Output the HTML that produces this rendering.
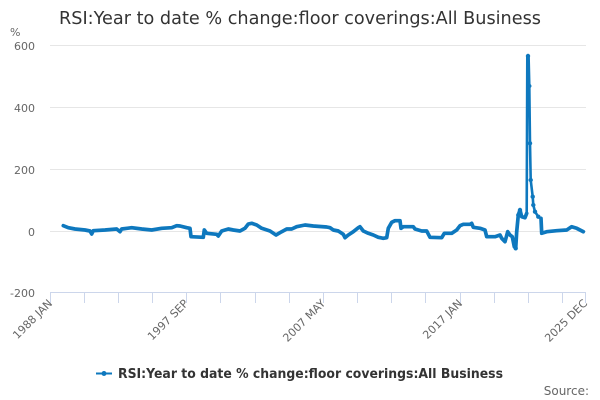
<!DOCTYPE html>
<html>
<head>
<meta charset="utf-8">
<style>
  html, body { margin: 0; padding: 0; background: #ffffff; }
  svg { display: block; }
  text { font-family: "DejaVu Sans", "Liberation Sans", sans-serif; }
</style>
</head>
<body>
<svg width="600" height="400" viewBox="0 0 600 400" xmlns="http://www.w3.org/2000/svg">
  <rect x="0" y="0" width="600" height="400" fill="#ffffff"/>

  <!-- Title -->
  <text x="300" y="24" text-anchor="middle" font-size="18" fill="#333333" textLength="482" lengthAdjust="spacingAndGlyphs">RSI:Year to date % change:floor coverings:All Business</text>

  <!-- Y axis unit -->
  <text x="10" y="36" font-size="11" fill="#666666">%</text>

  <!-- Gridlines -->
  <g stroke="#e6e6e6" stroke-width="1">
    <line x1="50" y1="45.5" x2="586" y2="45.5"/>
    <line x1="50" y1="107.5" x2="586" y2="107.5"/>
    <line x1="50" y1="169.5" x2="586" y2="169.5"/>
    <line x1="50" y1="231.5" x2="586" y2="231.5"/>
  </g>

  <!-- Y labels -->
  <g font-size="11" fill="#666666" text-anchor="end">
    <text x="35" y="50">600</text>
    <text x="35" y="112">400</text>
    <text x="35" y="174">200</text>
    <text x="35" y="236">0</text>
    <text x="35" y="297">-200</text>
  </g>

  <!-- X axis line and ticks -->
  <g stroke="#ccd6eb" stroke-width="1">
    <line x1="50" y1="292.5" x2="586" y2="292.5"/>
    <line x1="50.5" y1="292" x2="50.5" y2="303"/>
    <line x1="84.5" y1="292" x2="84.5" y2="303"/>
    <line x1="118.5" y1="292" x2="118.5" y2="303"/>
    <line x1="152.5" y1="292" x2="152.5" y2="303"/>
    <line x1="186.5" y1="292" x2="186.5" y2="303"/>
    <line x1="220.5" y1="292" x2="220.5" y2="303"/>
    <line x1="255.5" y1="292" x2="255.5" y2="303"/>
    <line x1="289.5" y1="292" x2="289.5" y2="303"/>
    <line x1="323.5" y1="292" x2="323.5" y2="303"/>
    <line x1="357.5" y1="292" x2="357.5" y2="303"/>
    <line x1="391.5" y1="292" x2="391.5" y2="303"/>
    <line x1="425.5" y1="292" x2="425.5" y2="303"/>
    <line x1="460.5" y1="292" x2="460.5" y2="303"/>
    <line x1="494.5" y1="292" x2="494.5" y2="303"/>
    <line x1="528.5" y1="292" x2="528.5" y2="303"/>
    <line x1="562.5" y1="292" x2="562.5" y2="303"/>
    <line x1="585.5" y1="292" x2="585.5" y2="303"/>
  </g>

  <!-- X labels (rotated) -->
  <g font-size="11" fill="#666666" text-anchor="end">
    <text transform="translate(53,304) rotate(-45)">1988 JAN</text>
    <text transform="translate(189,304) rotate(-45)">1997 SEP</text>
    <text transform="translate(326,304) rotate(-45)">2007 MAY</text>
    <text transform="translate(463,304) rotate(-45)">2017 JAN</text>
    <text transform="translate(588,304) rotate(-45)">2025 DEC</text>
  </g>

  <!-- Series -->
  <polyline fill="none" stroke="#0e78be" stroke-width="3.7" stroke-linejoin="round" stroke-linecap="round"
    points="63.3,225.7 68.3,227.7 75,229 85,230 90,231 91.7,234 93.3,230.7 105,230 116.7,229 120,231.7 121.7,229 131.7,227.7 141.7,229 151.7,230 161.7,228.3 171.7,227.7 176.7,225.7 180,226 186.7,227.7 190,228.3 191,236.7 203.3,237.3 204.3,230 206.7,233.3 216.7,234.3 218.3,236 221.7,231 228.3,229 233.3,230 240,231 245,228.3 248.3,224 251.7,223.3 256.7,225 261.7,228.3 270,231 276,235 281.7,231.7 286.7,229 291.7,229 296.7,226.7 305,225 313.3,226 326.7,227 330,227.7 333.3,230 338.3,231 343.3,234.3 345,237.7 348.3,235 353.3,231.7 358.3,227.7 360,226.7 363.3,231 368.3,233.3 373.3,235 378.3,237.3 383.3,238.3 386.7,237.7 388.3,228.3 391.7,222.3 395,220.7 400,220.7 401,228.3 403.3,226.7 413.3,226.7 415,229 421.7,231 426.7,231 430,237.3 441.7,237.7 444.3,233.3 451.7,233.3 456.7,230 460,225.7 463.3,224.3 470,224.3 471.7,223.3 473.3,227.3 480,228.3 485,230 486.7,236.7 495,236.7 500,235 501.7,238.3 505,241.7 507.7,231.7 510,235 512.3,236.7 514.3,246.7 515.7,248.3 516.7,231.7 518.3,215 520,210 521.7,216.7 525,217.7 526.7,213.3"/>
  <polyline fill="none" stroke="#0e78be" stroke-width="2.6" stroke-linejoin="round" stroke-linecap="round"
    points="526.7,213.3 527.3,56 528.6,57 529.3,86 530,143.3 530.7,180 532.7,196.7 533.3,205 535,211.7 538.3,216.7 541,218.3"/>
  <polyline fill="none" stroke="#0e78be" stroke-width="3.7" stroke-linejoin="round" stroke-linecap="round"
    points="541,218.3 541.7,233.3 546.7,231.7 556.7,230.7 566.7,230 571.7,226.7 576.7,228.3 583.3,231.7"/>
  <g fill="#0e78be">
    <circle cx="528" cy="56" r="2.2"/>
    <circle cx="529.3" cy="86" r="2.2"/>
    <circle cx="530" cy="143.3" r="2.2"/>
    <circle cx="530.7" cy="180" r="2.2"/>
    <circle cx="532.7" cy="196.7" r="2.2"/>
    <circle cx="533.3" cy="205" r="2.2"/>
    <circle cx="535" cy="211.7" r="2.2"/>
    <circle cx="538.3" cy="216.7" r="2.2"/>
    <circle cx="520" cy="210" r="2.2"/>
    <circle cx="518.3" cy="215" r="2.2"/>
    <circle cx="515.7" cy="248.3" r="2.2"/>
  </g>

  <!-- Legend -->
  <line x1="96" y1="373.5" x2="112" y2="373.5" stroke="#0e78be" stroke-width="2"/>
  <circle cx="104" cy="373.5" r="2.5" fill="#0e78be"/>
  <text x="118" y="378" font-size="13" font-weight="bold" fill="#333333" textLength="385" lengthAdjust="spacingAndGlyphs">RSI:Year to date % change:floor coverings:All Business</text>

  <!-- Source -->
  <text x="589" y="395" font-size="12" fill="#666666" text-anchor="end">Source:</text>
</svg>
</body>
</html>
